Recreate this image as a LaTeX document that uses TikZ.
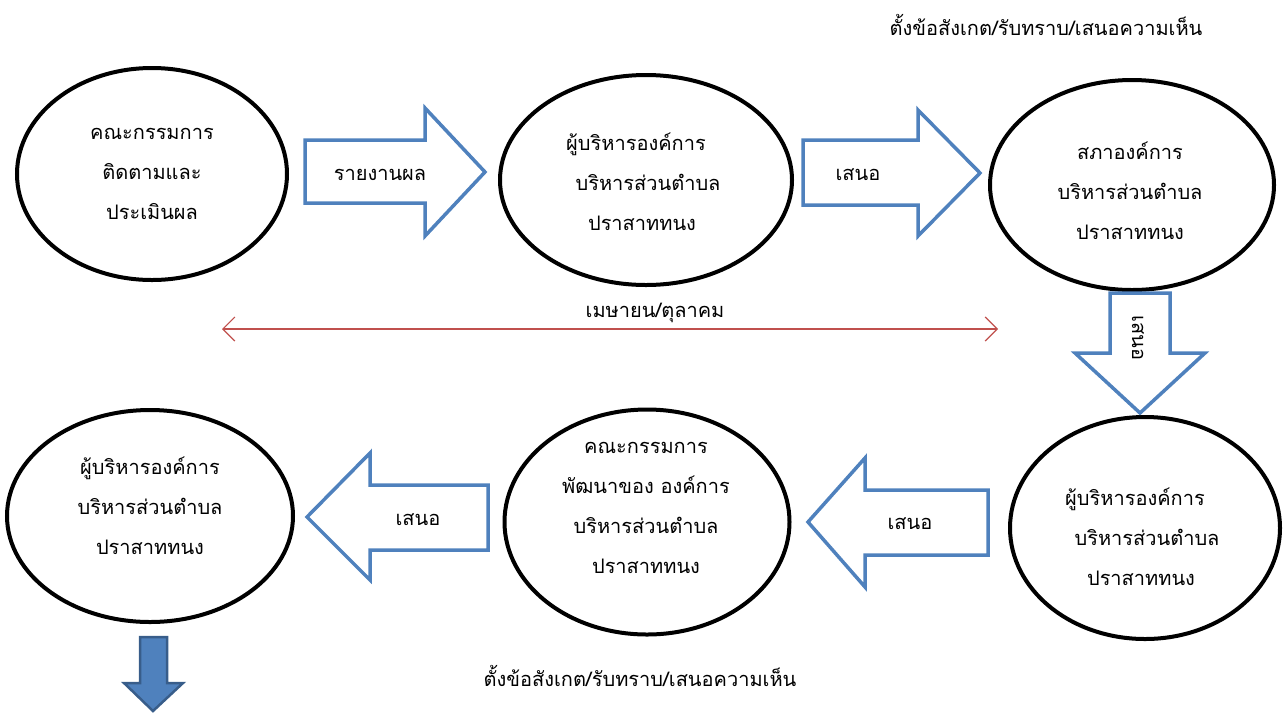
\documentclass[tikz,border=0pt]{standalone}
\usepackage{fontspec}
\newfontfamily\thaifont[Script=Thai]{Loma}
\usetikzlibrary{shapes.geometric}
\usetikzlibrary{arrows.meta}

\definecolor{flowblue}{HTML}{4F81BD}
\definecolor{flowdark}{HTML}{385D8A}
\definecolor{spanred}{HTML}{C0504D}

\begin{document}
\begin{tikzpicture}[x=1pt,y=-1pt,
    stage/.style={ellipse,draw,line width=4pt,inner sep=0pt},
    stagetext/.style={font=\thaifont\fontsize{20}{40}\selectfont,align=center},
    flowarrow/.style={draw=flowblue,line width=3.5pt,line join=miter},
    arrowtext/.style={font=\thaifont\fontsize{20}{24}\selectfont}]
  \useasboundingbox (0,0) rectangle (1287,713);

  % top row
  \node[stage,minimum width=270pt,minimum height=212pt] (eval) at (152,174) {};
  \node[stagetext] (evaltext) at (152,174) {คณะกรรมการ\\ติดตามและ\\ประเมินผล};

  \node[stage,minimum width=292pt,minimum height=210pt] (exec) at (646,180) {};
  \node[stagetext] (exectext) at (642,182) {ผู้บริหารองค์การ\hspace*{0.6em}\\\hspace*{0.6em}บริหารส่วนตำบล\\ปราสาททนง};

  \node[stage,minimum width=284pt,minimum height=210pt] (council) at (1132,185) {};
  \node[stagetext] (counciltext) at (1130,191) {สภาองค์การ\\บริหารส่วนตำบล\\ปราสาททนง};

  % bottom row
  \node[stage,minimum width=270pt,minimum height=222pt] (execb) at (1145,528) {};
  \node[stagetext] (execbtext) at (1141,537) {ผู้บริหารองค์การ\hspace*{0.6em}\\\hspace*{0.6em}บริหารส่วนตำบล\\ปราสาททนง};

  \node[stage,minimum width=285pt,minimum height=225pt] (devel) at (647,522) {};
  \node[stagetext] (develtext) at (646,508) {คณะกรรมการ\\พัฒนาของ องค์การ\\บริหารส่วนตำบล\\ปราสาททนง};

  \node[stage,minimum width=286pt,minimum height=212pt] (execc) at (150,516) {};
  \node[stagetext] (execctext) at (150,506) {ผู้บริหารองค์การ\\บริหารส่วนตำบล\\ปราสาททนง};

  % block arrows
  \draw[flowarrow] (305,140) -- (425,140) -- (425,108) -- (485,172) -- (425,236) -- (425,203) -- (305,203) -- cycle;
  \node[arrowtext] (report) at (380,175) {รายงานผล};

  \draw[flowarrow] (803,140) -- (918,140) -- (918,110) -- (980,173) -- (918,236) -- (918,205) -- (803,205) -- cycle;
  \node[arrowtext] (propose1) at (858,175) {เสนอ};

  \draw[flowarrow] (1110,293) -- (1170,293) -- (1170,353) -- (1205,353) -- (1140,413) -- (1075,353) -- (1110,353) -- cycle;
  \node[arrowtext,rotate=-90] (propose2) at (1138,338) {เสนอ};

  \draw[flowarrow] (988,490) -- (865,490) -- (865,458) -- (808,522) -- (865,587) -- (865,555) -- (988,555) -- cycle;
  \node[arrowtext] (propose3) at (910,524) {เสนอ};

  \draw[flowarrow] (488,485) -- (370,485) -- (370,453) -- (307,517) -- (370,580) -- (370,550) -- (488,550) -- cycle;
  \node[arrowtext] (propose4) at (418,520) {เสนอ};

  \draw[draw=flowdark,fill=flowblue,line width=2.5pt,line join=miter] (140,637) -- (167,637) -- (167,683) -- (183,683) -- (153,711) -- (124,683) -- (140,683) -- cycle;

  % time span
  \coordinate (spanL) at (222,329);
  \coordinate (spanR) at (998,329);
  \draw[spanred,line width=1.2pt,{Straight Barb[length=12pt,width=24pt]}-{Straight Barb[length=12pt,width=24pt]}] (spanL) -- (spanR);
  \node[arrowtext] (months) at (655,313) {เมษายน/ตุลาคม};

  % notes
  \node[arrowtext] (notetop) at (1046,25) {ตั้งข้อสังเกต/รับทราบ/เสนอความเห็น};
  \node[arrowtext] (notebottom) at (640,676) {ตั้งข้อสังเกต/รับทราบ/เสนอความเห็น};
\end{tikzpicture}
\end{document}
